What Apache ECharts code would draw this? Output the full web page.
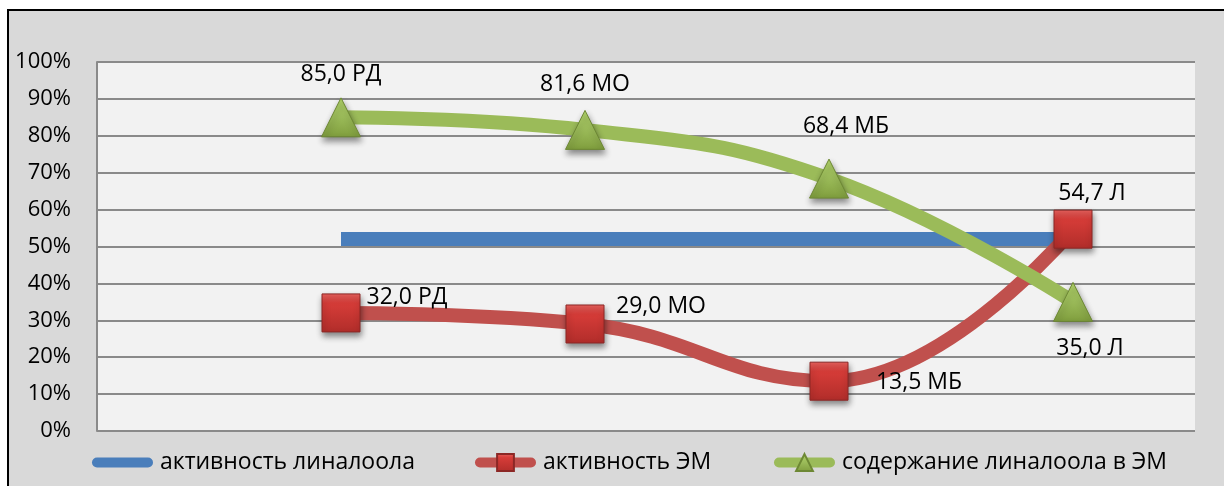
<!DOCTYPE html>
<html>
<head>
<meta charset="utf-8">
<script src="https://cdn.jsdelivr.net/npm/echarts@6/dist/echarts.min.js"></script>
<style>
  html, body { margin: 0; padding: 0; background: #ffffff; overflow: hidden; }
  #frame { position: absolute; left: 7px; top: 9px; width: 1300px; height: 600px;
           background: #d9d9d9; border: 2px solid #000; }
  #chart { position: absolute; left: 0; top: 0; width: 1224px; height: 486px; }
</style>
</head>
<body>
<div id="frame"></div>
<div id="chart"></div>
<script>
// Samples (plant codes) along the x axis
const sampleCodes = ['РД', 'МО', 'МБ', 'Л'];
const samplePositions = [1, 2, 3, 4];

// Series values, %
const linaloolActivity = [52, 52, 52, 52];
const oilActivity = [32.0, 29.0, 13.5, 54.7];
const linaloolContent = [85.0, 81.6, 68.4, 35.0];

const seriesNames = ['активность линалоола', 'активность ЭМ', 'содержание линалоола в ЭМ'];
const yTicks = [0, 10, 20, 30, 40, 50, 60, 70, 80, 90, 100];

// Label placement around each marker (label centre relative to the point)
const oilLabelOffsets = [[66, -15], [76, -18], [90, 1], [19, -36]];
const contentLabelOffsets = [[0, -43], [0, -45], [17, -52], [17, 47]];

const FONT = '"Open Sans", "Noto Sans", sans-serif';

function fmt(v, i) {
  return v.toFixed(1).replace('.', ',') + ' ' + sampleCodes[i];
}

function pairs(values) {
  return values.map((v, i) => [samplePositions[i], v]);
}

function labelled(values, offsets) {
  return values.map((v, i) => ({
    value: [samplePositions[i], v],
    label: {
      show: true,
      position: 'inside',
      offset: offsets[i],
      formatter: fmt(v, i)
    }
  }));
}

const shadow = { shadowBlur: 6, shadowOffsetX: 1, shadowOffsetY: 4, shadowColor: 'rgba(0,0,0,0.45)' };

const redFill = new echarts.graphic.LinearGradient(0, 0, 0, 1, [
  { offset: 0, color: '#e8625e' },
  { offset: 0.25, color: '#d63c38' },
  { offset: 1, color: '#b12d2a' }
]);
const greenFill = new echarts.graphic.LinearGradient(0, 0, 0, 1, [
  { offset: 0, color: '#b2d46a' },
  { offset: 0.5, color: '#9bbb59' },
  { offset: 1, color: '#7f9d3d' }
]);

const chart = echarts.init(document.getElementById('chart'), null, { renderer: 'canvas' });

const legendBase = {
  orient: 'horizontal',
  top: 446,
  itemWidth: 51,
  itemHeight: 21,
  itemGap: 0,
  textStyle: { fontFamily: FONT, fontSize: 23, color: '#000', padding: [0, 0, 0, 7] },
  lineStyle: { width: 10, cap: 'round' }
};

chart.setOption({
  animation: false,
  backgroundColor: 'transparent',
  textStyle: { fontFamily: FONT },
  grid: {
    left: 97, right: 29, top: 62, bottom: 55,
    show: true, backgroundColor: '#f2f2f2', borderWidth: 0
  },
  legend: [
    // plain line key: hide the marker, keep the stroke
    Object.assign({}, legendBase, {
      left: 87,
      data: [{ name: seriesNames[0], itemStyle: { opacity: 0 } }]
    }),
    Object.assign({}, legendBase, { left: 470, data: [seriesNames[1]] }),
    Object.assign({}, legendBase, { left: 769, data: [seriesNames[2]] })
  ],
  xAxis: {
    type: 'value', min: 0, max: 4.5,
    axisLine: { show: false }, axisTick: { show: false },
    axisLabel: { show: false }, splitLine: { show: false }
  },
  yAxis: {
    type: 'value', min: yTicks[0], max: yTicks[yTicks.length - 1], interval: 10,
    axisLine: { show: true, lineStyle: { color: '#8a8a8a', width: 2 } },
    axisTick: { show: false },
    axisLabel: { formatter: '{value}%', fontFamily: FONT, fontSize: 22, color: '#000', margin: 26 },
    splitLine: { show: true, lineStyle: { color: '#8a8a8a', width: 2 } }
  },
  series: [
    {
      name: seriesNames[0],
      type: 'line',
      data: pairs(linaloolActivity),
      symbol: 'none',
      lineStyle: { color: '#4a7ebb', width: 14 },
      itemStyle: { color: '#4a7ebb' }
    },
    {
      name: seriesNames[1],
      type: 'line',
      smooth: 0.45,
      data: labelled(oilActivity, oilLabelOffsets),
      symbol: 'rect',
      symbolSize: 38,
      lineStyle: { color: '#c0504d', width: 14 },
      itemStyle: Object.assign({ color: redFill, borderColor: '#8c2725', borderWidth: 1 }, shadow),
      label: { fontFamily: FONT, fontSize: 23, color: '#000' }
    },
    {
      name: seriesNames[2],
      type: 'line',
      smooth: 0.45,
      data: labelled(linaloolContent, contentLabelOffsets),
      symbol: 'triangle',
      symbolSize: 39,
      lineStyle: { color: '#9bbb59', width: 14 },
      itemStyle: Object.assign({ color: greenFill, borderColor: '#6d8834', borderWidth: 1 }, shadow),
      label: { fontFamily: FONT, fontSize: 23, color: '#000' }
    }
  ]
});
</script>
</body>
</html>
